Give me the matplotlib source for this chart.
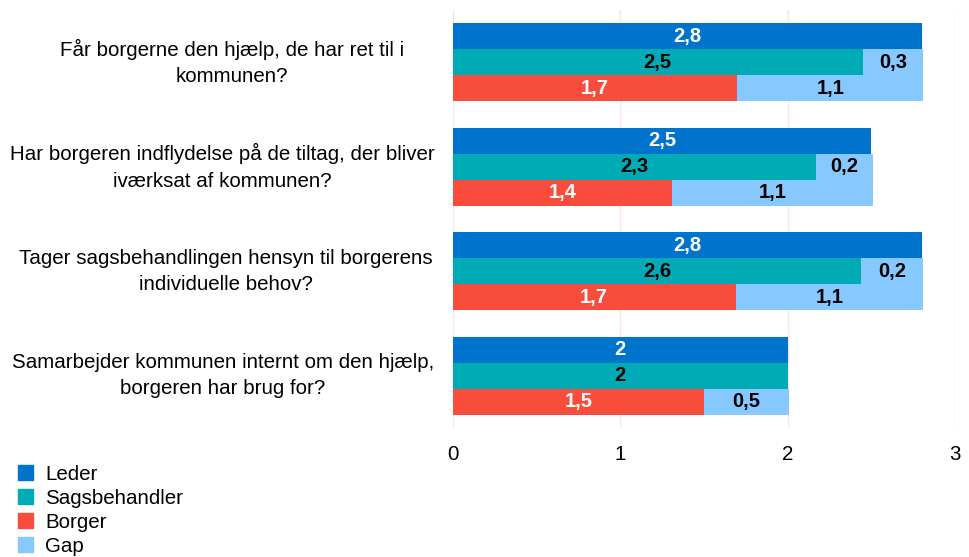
import matplotlib
matplotlib.use("Agg")
import matplotlib.pyplot as plt
from matplotlib.patches import Patch
from matplotlib.transforms import blended_transform_factory
import numpy as np

plt.rcParams['font.family'] = ['Liberation Sans', 'DejaVu Sans']

categories = [
    "Får borgerne den hjælp, de har ret til i\nkommunen?",
    "Har borgeren indflydelse på de tiltag, der bliver\niværksat af kommunen?",
    "Tager sagsbehandlingen hensyn til borgerens\nindividuelle behov?",
    "Samarbejder kommunen internt om den hjælp,\nborgeren har brug for?",
]
# bar lengths as drawn
leder = [2.80, 2.50, 2.80, 2.00]
sagsbehandler = [2.45, 2.17, 2.44, 2.00]
sags_gap = [0.36, 0.34, 0.37, 0.0]
borger = [1.70, 1.31, 1.69, 1.50]
borger_gap = [1.11, 1.20, 1.12, 0.51]
# labels as printed
leder_lbl = ["2,8", "2,5", "2,8", "2"]
sags_lbl = ["2,5", "2,3", "2,6", "2"]
sags_gap_lbl = ["0,3", "0,2", "0,2", ""]
borger_lbl = ["1,7", "1,4", "1,7", "1,5"]
borger_gap_lbl = ["1,1", "1,1", "1,1", "0,5"]
xticks = [0, 1, 2, 3]

C_LEDER = "#0074cc"
C_SAGS = "#00abb6"
C_BORGER = "#f84c3c"
C_GAP = "#87c9ff"

FS = 14.8

fig = plt.figure(figsize=(9.70, 5.57), dpi=100)
ax = fig.add_axes([452.7/970, 1 - 428/557, (955 - 452.7)/970, 418/557])

n = len(categories)
centers = np.arange(n)
h = 0.248
y_l = centers - h
y_s = centers
y_b = centers + h

bl = ax.barh(y_l, leder, height=h, color=C_LEDER, zorder=3)
bs = ax.barh(y_s, sagsbehandler, height=h, color=C_SAGS, zorder=3)
bsg = ax.barh(y_s, sags_gap, left=sagsbehandler, height=h, color=C_GAP, zorder=3)
bb = ax.barh(y_b, borger, height=h, color=C_BORGER, zorder=3)
bbg = ax.barh(y_b, borger_gap, left=borger, height=h, color=C_GAP, zorder=3)

for bars, lbls, col in [(bl, leder_lbl, "white"), (bs, sags_lbl, "black"),
                        (bsg, sags_gap_lbl, "black"), (bb, borger_lbl, "white"),
                        (bbg, borger_gap_lbl, "black")]:
    ax.bar_label(bars, labels=lbls, label_type="center", color=col,
                 fontsize=14.5, fontweight="bold")

ax.set_ylim(n - 0.5, -0.5)
ax.set_xlim(0, 3)
ax.set_xticks(xticks)
ax.set_xticklabels([str(t) for t in xticks], fontsize=FS)
ax.tick_params(axis='x', length=0, pad=12)
ax.set_yticks([])
for s in ax.spines.values():
    s.set_visible(False)
ax.grid(axis='x', color="#fde3e3", linewidth=1, zorder=0)
ax.set_axisbelow(True)

trans = blended_transform_factory(fig.transFigure, ax.transData)
label_cx = [232, 222, 226, 223]
for i, cat in enumerate(categories):
    ax.text(label_cx[i]/970, centers[i], cat, transform=trans,
            ha='center', va='center', multialignment='center', fontsize=FS,
            linespacing=1.5)

handles = [Patch(color=C_LEDER, label="Leder"), Patch(color=C_SAGS, label="Sagsbehandler"),
           Patch(color=C_BORGER, label="Borger"), Patch(color=C_GAP, label="Gap")]
fig.legend(handles=handles, loc='upper left', bbox_to_anchor=(18/970, 1 - 465/557),
           frameon=False, fontsize=FS, handlelength=0.73, handleheight=0.73,
           handletextpad=0.58, labelspacing=0.24, borderaxespad=0, borderpad=0)

fig.savefig("out.png", dpi=100)
